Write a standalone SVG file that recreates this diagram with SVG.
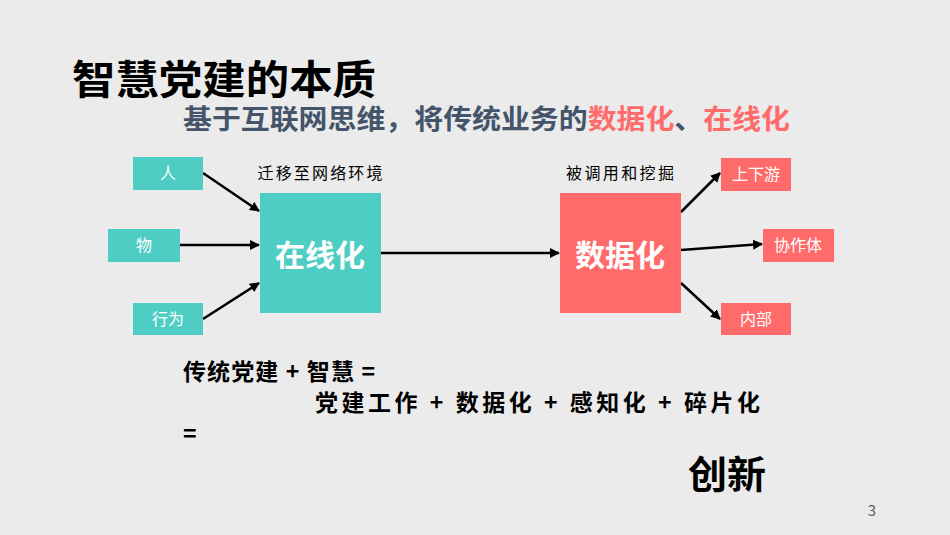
<svg xmlns="http://www.w3.org/2000/svg" width="950" height="535" viewBox="0 0 950 535">
<defs>
<style>
text{font-family:"Noto Sans CJK SC","Liberation Sans",sans-serif}
.t{fill:#4ecdc4}.r{fill:#ff6b6b}
.s{font-size:16px;fill:#fff}
.l{font-size:16px;fill:#000}
.b{font-size:23px;font-weight:bold;fill:#000}
.c line{stroke:#000;stroke-width:2.5;marker-end:url(#a)}
</style>
<marker id="a" viewBox="0 0 10 10" refX="9" refY="5" markerWidth="4" markerHeight="4" orient="auto"><path d="M0,0L10,5L0,10z" fill="#000"/></marker>
</defs>
<rect width="950" height="535" fill="#ebebeb"/>
<text x="72" y="94" font-size="40" font-weight="bold" fill="#000" textLength="304" lengthAdjust="spacingAndGlyphs">智慧党建的本质</text>
<text x="183" y="129" font-size="27" font-weight="bold" fill="#44546a" textLength="607" lengthAdjust="spacingAndGlyphs">基于互联网思维，将传统业务的<tspan fill="#ff6b6b">数据化</tspan>、<tspan fill="#ff6b6b">在线化</tspan></text>
<g class="c">
<line x1="203" y1="173" x2="259" y2="211"/>
<line x1="180" y1="245" x2="259" y2="245"/>
<line x1="203" y1="319" x2="259" y2="283"/>
<line x1="381" y1="253" x2="559" y2="253"/>
<line x1="681" y1="212" x2="720" y2="173"/>
<line x1="681" y1="250" x2="762" y2="244"/>
<line x1="681" y1="283" x2="720" y2="319"/>
</g>
<g id="n1"><rect class="t" x="133" y="157" width="70" height="33"/><text class="s" x="168" y="179" text-anchor="middle">人</text></g>
<g id="n2"><rect class="t" x="108" y="229" width="72" height="33"/><text class="s" x="144" y="251" text-anchor="middle">物</text></g>
<g id="n3"><rect class="t" x="133" y="303" width="70" height="32"/><text class="s" x="168" y="325" text-anchor="middle">行为</text></g>
<g id="n4"><rect class="t" x="260" y="193" width="121" height="120"/><text x="320" y="266" text-anchor="middle" font-size="30" font-weight="bold" fill="#fff">在线化</text></g>
<g id="n5"><rect class="r" x="560" y="193" width="121" height="120"/><text x="620" y="266" text-anchor="middle" font-size="30" font-weight="bold" fill="#fff">数据化</text></g>
<g id="n6"><rect class="r" x="721" y="158" width="70" height="33"/><text class="s" x="756" y="180" text-anchor="middle">上下游</text></g>
<g id="n7"><rect class="r" x="763" y="229" width="71" height="33"/><text class="s" x="798" y="251" text-anchor="middle">协作体</text></g>
<g id="n8"><rect class="r" x="721" y="303" width="70" height="32"/><text class="s" x="756" y="325" text-anchor="middle">内部</text></g>
<text class="l" x="320" y="179" text-anchor="middle" textLength="125">迁移至网络环境</text>
<text class="l" x="620" y="179" text-anchor="middle" textLength="108">被调用和挖掘</text>
<text class="b" x="183" y="380" textLength="192">传统党建 + 智慧 =</text>
<text class="b" x="315" y="411" textLength="445">党建工作 + 数据化 + 感知化 + 碎片化</text>
<text class="b" x="183" y="442">=</text>
<text x="688" y="488" font-size="38" font-weight="bold" fill="#000" textLength="78" lengthAdjust="spacingAndGlyphs">创新</text>
<text x="872" y="516" font-size="15" fill="#595959" text-anchor="middle">3</text>
</svg>
